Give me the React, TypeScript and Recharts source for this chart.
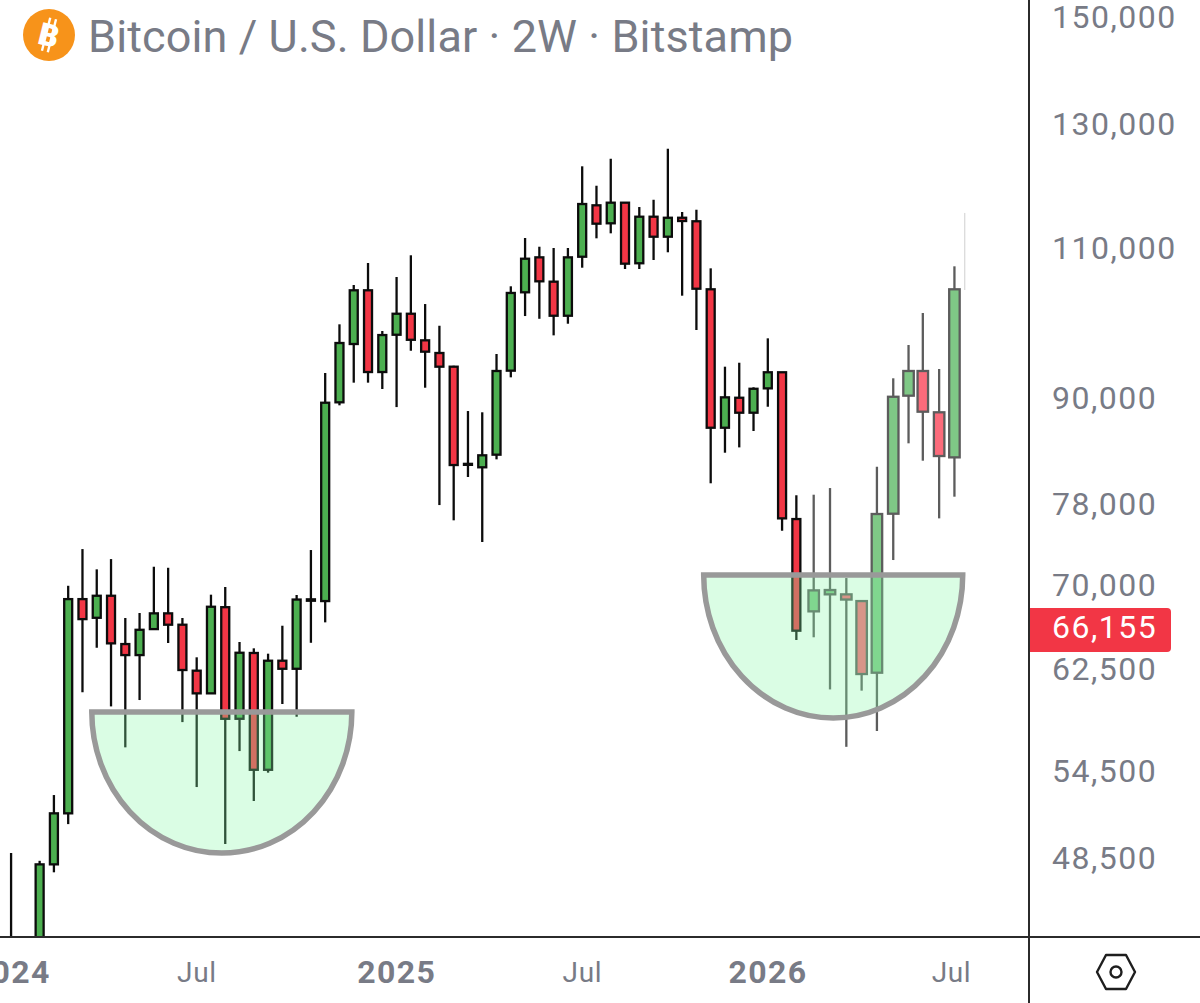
import { BarChart, Bar, XAxis, YAxis, ReferenceArea, ReferenceLine } from 'recharts'

const barDates = [
  '2024-01-01', '2024-01-15', '2024-01-29', '2024-02-12', '2024-02-26', '2024-03-11', '2024-03-25', '2024-04-08', '2024-04-22', '2024-05-06', '2024-05-20',
  '2024-06-03', '2024-06-17', '2024-07-01', '2024-07-15', '2024-07-29', '2024-08-12', '2024-08-26', '2024-09-09', '2024-09-23', '2024-10-07', '2024-10-21',
  '2024-11-04', '2024-11-18', '2024-12-02', '2024-12-16', '2024-12-30', '2025-01-13', '2025-01-27', '2025-02-10', '2025-02-24', '2025-03-10', '2025-03-24',
  '2025-04-07', '2025-04-21', '2025-05-05', '2025-05-19', '2025-06-02', '2025-06-16', '2025-06-30', '2025-07-14', '2025-07-28', '2025-08-11', '2025-08-25',
  '2025-09-08', '2025-09-22', '2025-10-06', '2025-10-20', '2025-11-03', '2025-11-17', '2025-12-01', '2025-12-15', '2025-12-29', '2026-01-12', '2026-01-26',
  '2026-02-09', '2026-02-26', '2026-03-14', '2026-03-30', '2026-04-14', '2026-04-29', '2026-05-15', '2026-05-30', '2026-06-13', '2026-06-29', '2026-07-14',
]
const opens = [
  42300, 42800, 42000, 48100, 51510, 68670, 66970, 68980, 64650, 63700, 65960,
  67370, 66350, 62380, 60510, 67930, 58480, 63880, 54610, 63220, 62540, 68520,
  68490, 89430, 96710, 103940, 93140, 97920, 100720, 97190, 95550, 93810, 82340,
  81960, 83360, 93310, 103660, 108640, 105150, 100450, 108730, 116500, 113720, 116910,
  107780, 114730, 111690, 114570, 114030, 104080, 86430, 89980, 88190, 91120, 93110,
  76460, 67550, 69110, 69110, 68490, 62210, 77010, 90230, 93270, 88240, 83060,
]
const closes = [
  42800, 42000, 48100, 51510, 68670, 66850, 68980, 64710, 63700, 65900, 67370,
  66350, 62436, 60510, 67970, 58480, 63900, 54610, 63220, 62540, 68630, 68650,
  89380, 96840, 103940, 93140, 97880, 100720, 97260, 95720, 93810, 82210, 82240,
  83290, 93270, 103570, 108440, 105200, 100450, 108640, 116700, 113660, 116910, 107720,
  114730, 111690, 114570, 114070, 104160, 86430, 90030, 88190, 91070, 93110, 76530,
  65820, 69480, 69513, 68630, 62100, 76980, 90100, 93270, 88310, 83210, 104080,
]
const highs = [
  48840, 43400, 48330, 52790, 69910, 73440, 71470, 72460, 66950, 67400, 71720,
  71620, 66950, 63510, 69080, 69790, 64830, 64280, 63820, 66260, 69050, 73346,
  93020, 99300, 104680, 107820, 98410, 105810, 108940, 102040, 99110, 93930, 88390,
  88240, 95420, 104500, 111500, 110200, 110010, 110010, 122760, 119600, 124010, 117020,
  116230, 117370, 125690, 115460, 115810, 107050, 93810, 94310, 91250, 97450, 93140,
  78940, 79000, 79710, 70640, 68500, 82020, 92360, 96580, 100820, 93520, 107340,
]
const lows = [
  40000, 38500, 39500, 47590, 50770, 60600, 64330, 59460, 56280, 59970, 65880,
  64740, 58220, 53360, 60480, 49430, 56000, 52370, 54400, 59650, 58640, 64760,
  66560, 89070, 91820, 91820, 91040, 88860, 95840, 91200, 77910, 76330, 80900,
  74140, 82840, 92480, 100410, 100040, 97840, 99380, 107140, 111450, 112200, 106950,
  106950, 108256, 109380, 103190, 98545, 80220, 83580, 84180, 86050, 88900, 75270,
  65001, 65240, 60830, 56320, 60730, 57530, 72368, 84640, 82690, 76530, 78790,
]

const priceTicks = [48500, 54500, 62500, 66155, 70000, 78000, 90000, 110000, 130000, 150000]
const lastPrice = 66155
const timeTicks = ['2024-01-01', '2024-07-01', '2025-01-13', '2025-07-14', '2026-01-12', '2026-07-11']
const timeLabels = ['2024', 'Jul', '2025', 'Jul', '2026', 'Jul']
const firstFadedDate = '2026-02-26'

const day = (s: string) => Date.parse(s)
const rows = barDates.map((d, i) => ({ time: day(d), open: opens[i], close: closes[i], high: highs[i], low: lows[i] }))

const Candle = (props: any) => {
  const { x, y, width, height, payload } = props
  const { open, close, high, low, time } = payload
  const cx = x + width / 2
  const span = Math.log(high / low)
  const yOf = (v: number) => y + (height * Math.log(high / v)) / span
  const top = yOf(Math.max(open, close))
  const bottom = yOf(Math.min(open, close))
  const up = close >= open
  const faded = time >= day(firstFadedDate)
  const w = faded ? 10.5 : 8
  const edge = faded ? '#5c5c5c' : '#0c0c0c'
  const fill = faded ? (up ? '#7fc886' : '#fb6b7b') : up ? '#4caf50' : '#f23645'
  return (
    <g>
      <line x1={cx} x2={cx} y1={y} y2={y + height} stroke={edge} strokeWidth={2.3} />
      <rect x={cx - w / 2} y={top} width={w} height={Math.max(bottom - top, 1)} fill={fill} stroke={edge} strokeWidth={2.3} />
    </g>
  )
}

const Bowl = (props: any) => {
  const { x, y, width, height } = props
  return (
    <path
      d={`M${x},${y} L${x + width},${y} A${width / 2},${height} 0 0 1 ${x},${y} Z`}
      fill='rgba(133,250,167,0.3)'
      stroke='#999999'
      strokeWidth={5.5}
    />
  )
}

const PriceTick = (props: any) => {
  const { y, payload } = props
  const isLast = payload.value === lastPrice
  return (
    <g>
      {isLast && <path d={`M1029,${y - 19} H1167 a4,4 0 0 1 4,4 V${y + 21} a4,4 0 0 1 -4,4 H1029 Z`} fill='#f23645' />}
      <text
        x={1052}
        y={y + 11}
        fontFamily='Roboto'
        fontSize={32}
        letterSpacing={1.5}
        fill={isLast ? '#ffffff' : '#787b86'}
      >
        {payload.value.toLocaleString('en-US')}
      </text>
    </g>
  )
}

const TimeTick = (props: any) => {
  const { x, payload } = props
  const label = timeLabels[timeTicks.findIndex(t => day(t) === payload.value)]
  const isYear = label !== 'Jul'
  return (
    <text
      x={x}
      y={isYear ? 983 : 982}
      textAnchor='middle'
      fontFamily='Roboto'
      fontSize={isYear ? 32 : 28}
      fontWeight={isYear ? 700 : 400}
      letterSpacing={isYear ? 1.4 : 0.6}
      fill='#787b86'
    >
      {label}
    </text>
  )
}

const App = () => {
  return (
    <div style={{ position: 'absolute', left: 0, top: 0, width: 1200, height: 1003, overflow: 'hidden', background: '#fff' }}>
      <BarChart width={1200} height={1003} data={rows} barSize={14} margin={{ top: 0, right: 0, left: 0, bottom: 0 }}>
        <XAxis
          dataKey='time'
          type='number'
          scale='linear'
          domain={[day('2023-12-21'), day('2026-09-24')]}
          ticks={timeTicks.map(day)}
          interval={0}
          height={66}
          axisLine={false}
          tickLine={false}
          tick={<TimeTick />}
        />
        <YAxis
          orientation='right'
          scale='log'
          domain={[43632, 153462]}
          allowDataOverflow={true}
          ticks={priceTicks}
          interval={0}
          width={172}
          axisLine={false}
          tickLine={false}
          tick={<PriceTick />}
        />
        <Bar dataKey={(d: any) => [d.low, d.high]} shape={<Candle />} isAnimationActive={false} />
        <ReferenceArea
          x1={day('2024-03-20')}
          x2={day('2024-11-30')}
          y1={59013}
          y2={48833}
          shape={<Bowl />}
          ifOverflow='visible'
          zIndex={700}
        />
        <ReferenceArea
          x1={day('2025-11-10')}
          x2={day('2026-07-22')}
          y1={70920}
          y2={58541}
          shape={<Bowl />}
          ifOverflow='visible'
          zIndex={700}
        />
        <ReferenceLine
          segment={[
            { x: day('2026-07-24'), y: 115310 },
            { x: day('2026-07-24'), y: 103980 },
          ]}
          stroke='#cfcfcf'
          strokeWidth={1}
        />
      </BarChart>

      <div style={{ position: 'absolute', left: 1028, top: 0, width: 2, height: 1003, background: '#2b2b2b' }} />
      <div style={{ position: 'absolute', left: 0, top: 936, width: 1200, height: 2, background: '#2b2b2b' }} />

      <svg width={60} height={60} style={{ position: 'absolute', left: 19, top: 5 }}>
        <circle cx={30} cy={30} r={26} fill='#f7931a' />
        <g transform='rotate(14 30 30)' stroke='#fff' strokeWidth={2.4}>
          <line x1={27} x2={27} y1={13} y2={47} />
          <line x1={33} x2={33} y1={13} y2={47} />
        </g>
        <text x={30} y={41} textAnchor='middle' fontFamily='Roboto' fontWeight={900} fontSize={31} fill='#fff' transform='rotate(14 30 30)'>
          B
        </text>
      </svg>
      <div
        style={{
          position: 'absolute',
          left: 88,
          top: 9,
          fontFamily: 'Roboto',
          fontSize: 45,
          letterSpacing: 0.1,
          lineHeight: '56px',
          color: '#787b86',
          whiteSpace: 'nowrap',
        }}
      >
        Bitcoin / U.S. Dollar · 2W · Bitstamp
      </div>

      <svg width={44} height={40} style={{ position: 'absolute', left: 1094, top: 952 }}>
        <path d='M12,3 H32 L41,20 L32,37 H12 L3,20 Z' fill='none' stroke='#1e1e1e' strokeWidth={2.4} strokeLinejoin='round' />
        <circle cx={22} cy={20} r={5.5} fill='none' stroke='#1e1e1e' strokeWidth={2.4} />
      </svg>
    </div>
  )
}

export default App
